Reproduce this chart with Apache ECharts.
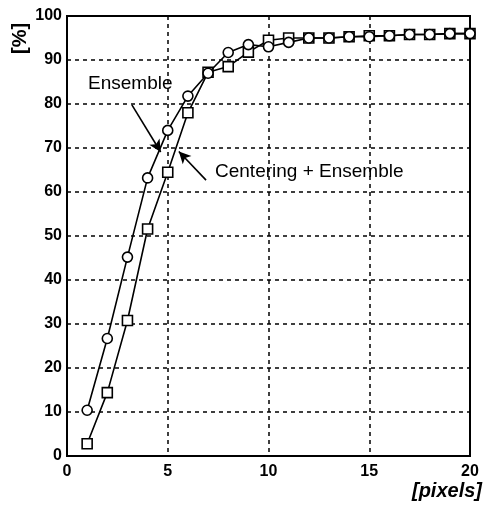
<!DOCTYPE html>
<html>
<head>
<meta charset="utf-8">
<style>
  html, body { margin: 0; padding: 0; background: #fff; }
  #chart { width: 484px; height: 512px; }
</style>
<script src="https://cdn.jsdelivr.net/npm/echarts@6/dist/echarts.min.js"></script>
</head>
<body>
<div id="chart"></div>
<script>
// Pixel displacement (x) versus success rate [%]
const pixels = [1, 2, 3, 4, 5, 6, 7, 8, 9, 10, 11, 12, 13, 14, 15, 16, 17, 18, 19, 20];
const ensemble = [10.4, 26.7, 45.2, 63.2, 74.0, 81.8, 87.0, 91.7, 93.5, 93.0, 94.0, 95.0, 95.0, 95.3, 95.3, 95.5, 95.8, 95.8, 96.0, 96.0];
const centeringEnsemble = [2.8, 14.4, 30.8, 51.6, 64.5, 78.0, 87.2, 88.5, 91.8, 94.5, 95.0, 95.0, 95.0, 95.3, 95.5, 95.5, 95.8, 95.8, 96.0, 96.0];
const xTicks = [0, 5, 10, 15, 20];
const yTicks = [0, 10, 20, 30, 40, 50, 60, 70, 80, 90, 100];

const chart = echarts.init(document.getElementById('chart'), null, { renderer: 'canvas' });
const font = 'Liberation Sans, Arial, sans-serif';

const pairs = (ys) => pixels.map((x, i) => [x, ys[i]]);

chart.setOption({
  animation: false,
  backgroundColor: '#fff',
  grid: { left: 67, right: 14, top: 16, bottom: 56, show: true, borderColor: '#000', borderWidth: 2 },
  xAxis: {
    type: 'value', min: xTicks[0], max: xTicks[xTicks.length - 1], interval: xTicks[1] - xTicks[0],
    axisLine: { show: true, lineStyle: { color: '#000', width: 2 } },
    axisTick: { show: false },
    axisLabel: { color: '#000', fontFamily: font, fontSize: 16, fontWeight: 'bold', margin: 8 },
    splitLine: { show: true, lineStyle: { color: '#000', type: [4, 4], width: 1.5 } }
  },
  yAxis: {
    type: 'value', min: yTicks[0], max: yTicks[yTicks.length - 1], interval: yTicks[1] - yTicks[0],
    axisLine: { show: true, lineStyle: { color: '#000', width: 2 } },
    axisTick: { show: false },
    axisLabel: { color: '#000', fontFamily: font, fontSize: 16, fontWeight: 'bold', margin: 5 },
    splitLine: { show: true, lineStyle: { color: '#000', type: [4, 4], width: 1.5 } }
  },
  series: [
    {
      name: 'Ensemble', type: 'line', data: pairs(ensemble),
      symbol: 'circle', symbolSize: [10, 10], showAllSymbol: true,
      itemStyle: { color: '#fff', borderColor: '#000', borderWidth: 1.6 },
      lineStyle: { color: '#000', width: 1.6 }, z: 3,
      markLine: {
        silent: true, symbol: ['none', 'arrow'], symbolSize: [9, 12],
        lineStyle: { color: '#000', width: 1.6, type: 'solid' },
        label: { show: false },
        data: [[{ coord: [3.22, 79.8] }, { coord: [4.65, 69.1] }]]
      }
    },
    {
      name: 'Centering + Ensemble', type: 'line', data: pairs(centeringEnsemble),
      symbol: 'rect', symbolSize: [10, 10], showAllSymbol: true,
      itemStyle: { color: '#fff', borderColor: '#000', borderWidth: 1.6 },
      lineStyle: { color: '#000', width: 1.6 }, z: 2,
      markLine: {
        silent: true, symbol: ['none', 'arrow'], symbolSize: [9, 12],
        lineStyle: { color: '#000', width: 1.6, type: 'solid' },
        label: { show: false },
        data: [[{ coord: [6.9, 62.7] }, { coord: [5.55, 69.2] }]]
      }
    }
  ],
  graphic: [
    { type: 'text', left: 88, top: 74, style: { text: 'Ensemble', font: '19px ' + font, fill: '#000' } },
    { type: 'text', left: 215, top: 162, style: { text: 'Centering + Ensemble', font: '19px ' + font, fill: '#000' } },
    { type: 'text', x: 10, y: 54, rotation: Math.PI / 2, style: { text: '[%]', font: 'bold 20px ' + font, fill: '#000' } },
    { type: 'text', right: 2, top: 481, style: { text: '[pixels]', font: 'italic bold 20px ' + font, fill: '#000' } }
  ]
});
</script>
</body>
</html>
